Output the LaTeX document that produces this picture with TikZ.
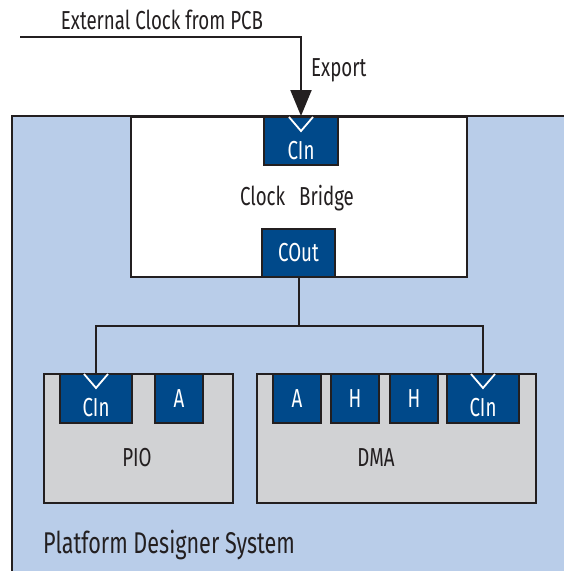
\documentclass[tikz,border=0pt]{standalone}
\usepackage{fontspec}
\setmainfont{Fira Sans}[FakeStretch=0.72]
\usepackage{tikz}
\usetikzlibrary{arrows.meta,calc}
\definecolor{sysbg}{HTML}{B9CDE9}
\definecolor{portbg}{HTML}{00498A}
\definecolor{compbg}{HTML}{D1D2D4}
\definecolor{inkc}{HTML}{231F20}

\tikzset{
  comp/.style={draw=inkc,line width=2.2pt,fill=compbg,anchor=north west,inner sep=0pt},
  port/.style={draw=inkc,line width=2pt,fill=portbg,text=white,anchor=north west,inner sep=0pt,minimum height=48pt},
  wire/.style={draw=inkc,line width=2pt},
  lbl/.style={text=inkc,inner sep=0pt}
}
\newcommand\chev[1]{\draw[white,line width=1.8pt] ([shift={(-12,1)}]#1.north) -- ([shift={(0,15)}]#1.north) -- ([shift={(12,1)}]#1.north);}
\newcommand\cinlabel{\raisebox{-18pt}[0pt][0pt]{CIn}}

\begin{document}
\begin{tikzpicture}[x=1pt,y=-1pt,font=\fontsize{26}{30}\selectfont]
\useasboundingbox (0,0) rectangle (563,571);
% system area
\fill[sysbg] (12,116) rectangle (580,590);
\draw[inkc,line width=2.2pt] (580,116) -- (12,116) -- (12,590);
\node[lbl,anchor=west,font=\fontsize{30}{34}\selectfont] (sysname) at (43,545) {Platform Designer System};

% clock bridge
\node[comp,fill=white,minimum width=336pt,minimum height=160pt] (bridge) at (130,116) {};
\node[lbl] (bridgename) at (297,198) {Clock\hspace{14pt}Bridge};
\node[port,minimum width=74pt] (bridgeCin) at (263,116) {\cinlabel};
\node[port,minimum width=73pt] (bridgeCout) at (261,228) {COut};
\chev{bridgeCin}

% components
\node[comp,minimum width=189pt,minimum height=129pt] (pio) at (43,373) {};
\node[lbl] (pioname) at (137,458) {PIO};
\node[port,minimum width=72pt,minimum height=49pt] (pioCin) at (59,373) {\cinlabel};
\node[port,minimum width=48pt,minimum height=49pt] (pioA) at (154,373) {A};
\chev{pioCin}

\node[comp,minimum width=279pt,minimum height=129pt] (dma) at (256,373) {};
\node[lbl] (dmaname) at (376,458) {DMA};
\node[port,minimum width=48pt,minimum height=49pt] (dmaA) at (272,373) {A};
\node[port,minimum width=48pt,minimum height=49pt] (dmaH1) at (330,373) {H};
\node[port,minimum width=48pt,minimum height=49pt] (dmaH2) at (389,373) {H};
\node[port,minimum width=72pt,minimum height=49pt] (dmaCin) at (446,373) {\cinlabel};
\chev{dmaCin}

% clock wiring
\node[lbl] (extname) at (162,20) {External Clock from PCB};
\node[lbl,anchor=west] (exportname) at (311,70) {Export};
\coordinate (extStart) at (20,37);
\draw[wire,-{Triangle[length=26pt,width=21pt]}] (extStart) -| (bridgeCin.north);
\coordinate (split) at (bridgeCout.south |- 0,326);
\draw[wire] (bridgeCout.south) -- (split) -| (pioCin.north);
\draw[wire] (split) -| (dmaCin.north);
\end{tikzpicture}
\end{document}
